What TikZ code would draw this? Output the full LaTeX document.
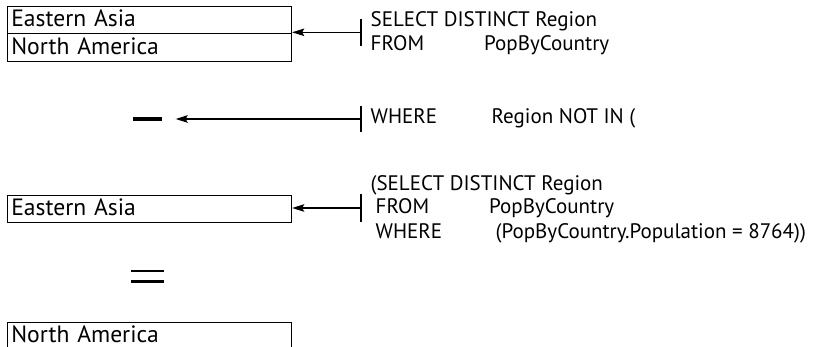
\documentclass[tikz,border=0pt]{standalone}
\usepackage{fontspec}
\setmainfont{PT Sans}
\usetikzlibrary{arrows.meta,shapes.multipart}
\newcommand{\boxstrut}{\rule[-6.5pt]{0pt}{26.5pt}}
\tikzset{
  valfont/.style={font=\fontsize{23.6}{25}\selectfont},
  valbox/.style={draw=black, line width=0.9pt, inner xsep=3.5pt, inner ysep=0pt,
    minimum width=284pt, text width=277pt, align=left,
    text height=20pt, text depth=6.5pt, valfont},
  splitbox/.style={draw=black, line width=0.9pt, inner xsep=3.5pt, inner ysep=0pt,
    rectangle split, rectangle split parts=2, rectangle split part align=left,
    text width=277pt, valfont},
  sqltext/.style={anchor=base west, inner sep=0pt, font=\fontsize{21}{22}\selectfont},
  link/.style={line width=1.2pt, {Bar[width=#1,line width=1.2pt]}-{Stealth[length=12pt,width=7.5pt,inset=2pt]}},
  opbar/.style={fill=black, inner sep=0pt, minimum width=#1}
}
\begin{document}
\begin{tikzpicture}[x=1pt,y=-1pt]
\useasboundingbox (0,0) rectangle (829,347);
\clip (0,0) rectangle (829,347);
% result boxes
\node[splitbox, anchor=north west] (b1) at (7.3,6)
  {\boxstrut Eastern Asia\nodepart{two}\boxstrut North America};
\node[valbox, anchor=north west] (b2) at (7.3,195.5) {Eastern Asia};
\node[valbox, anchor=north west] (b3) at (7.3,321.7) {North America};
% operators
\node[opbar=29pt, minimum height=4pt] (minus) at (147.5,119) {};
\node[opbar=33pt, minimum height=2.5pt] (eqa) at (147.7,271) {};
\node[opbar=33pt, minimum height=2.5pt] (eqb) at (147.7,281.7) {};
% SQL text
\node[sqltext] (s1) at (370.5,26.7) {SELECT DISTINCT Region};
\node[sqltext] (s2) at (370.5,50.7) {FROM};
\node[sqltext] (s2b) at (484,50.7) {PopByCountry};
\node[sqltext] (w1) at (370.5,124) {WHERE};
\node[sqltext] (w1b) at (491.5,124) {Region NOT IN (};
\node[sqltext] (q1) at (370.5,190.7) {(SELECT DISTINCT Region};
\node[sqltext] (q2) at (375.5,214) {FROM};
\node[sqltext] (q2b) at (489,214) {PopByCountry};
\node[sqltext] (q3) at (375.5,238.3) {WHERE};
\node[sqltext] (q3b) at (495.5,238.3) {(PopByCountry.Population = 8764))};
% connectors
\coordinate (c1) at (361.5,32.3);
\coordinate (c2) at (361.5,119);
\coordinate (c3) at (361.5,208);
\draw[link=27pt] (c1) -- (b1.text split east |- c1);
\draw[link=26pt] (c2) -- (minus.east -| 175.7,0);
\draw[link=28pt] (c3) -- (b2.east |- c3);
\end{tikzpicture}
\end{document}
